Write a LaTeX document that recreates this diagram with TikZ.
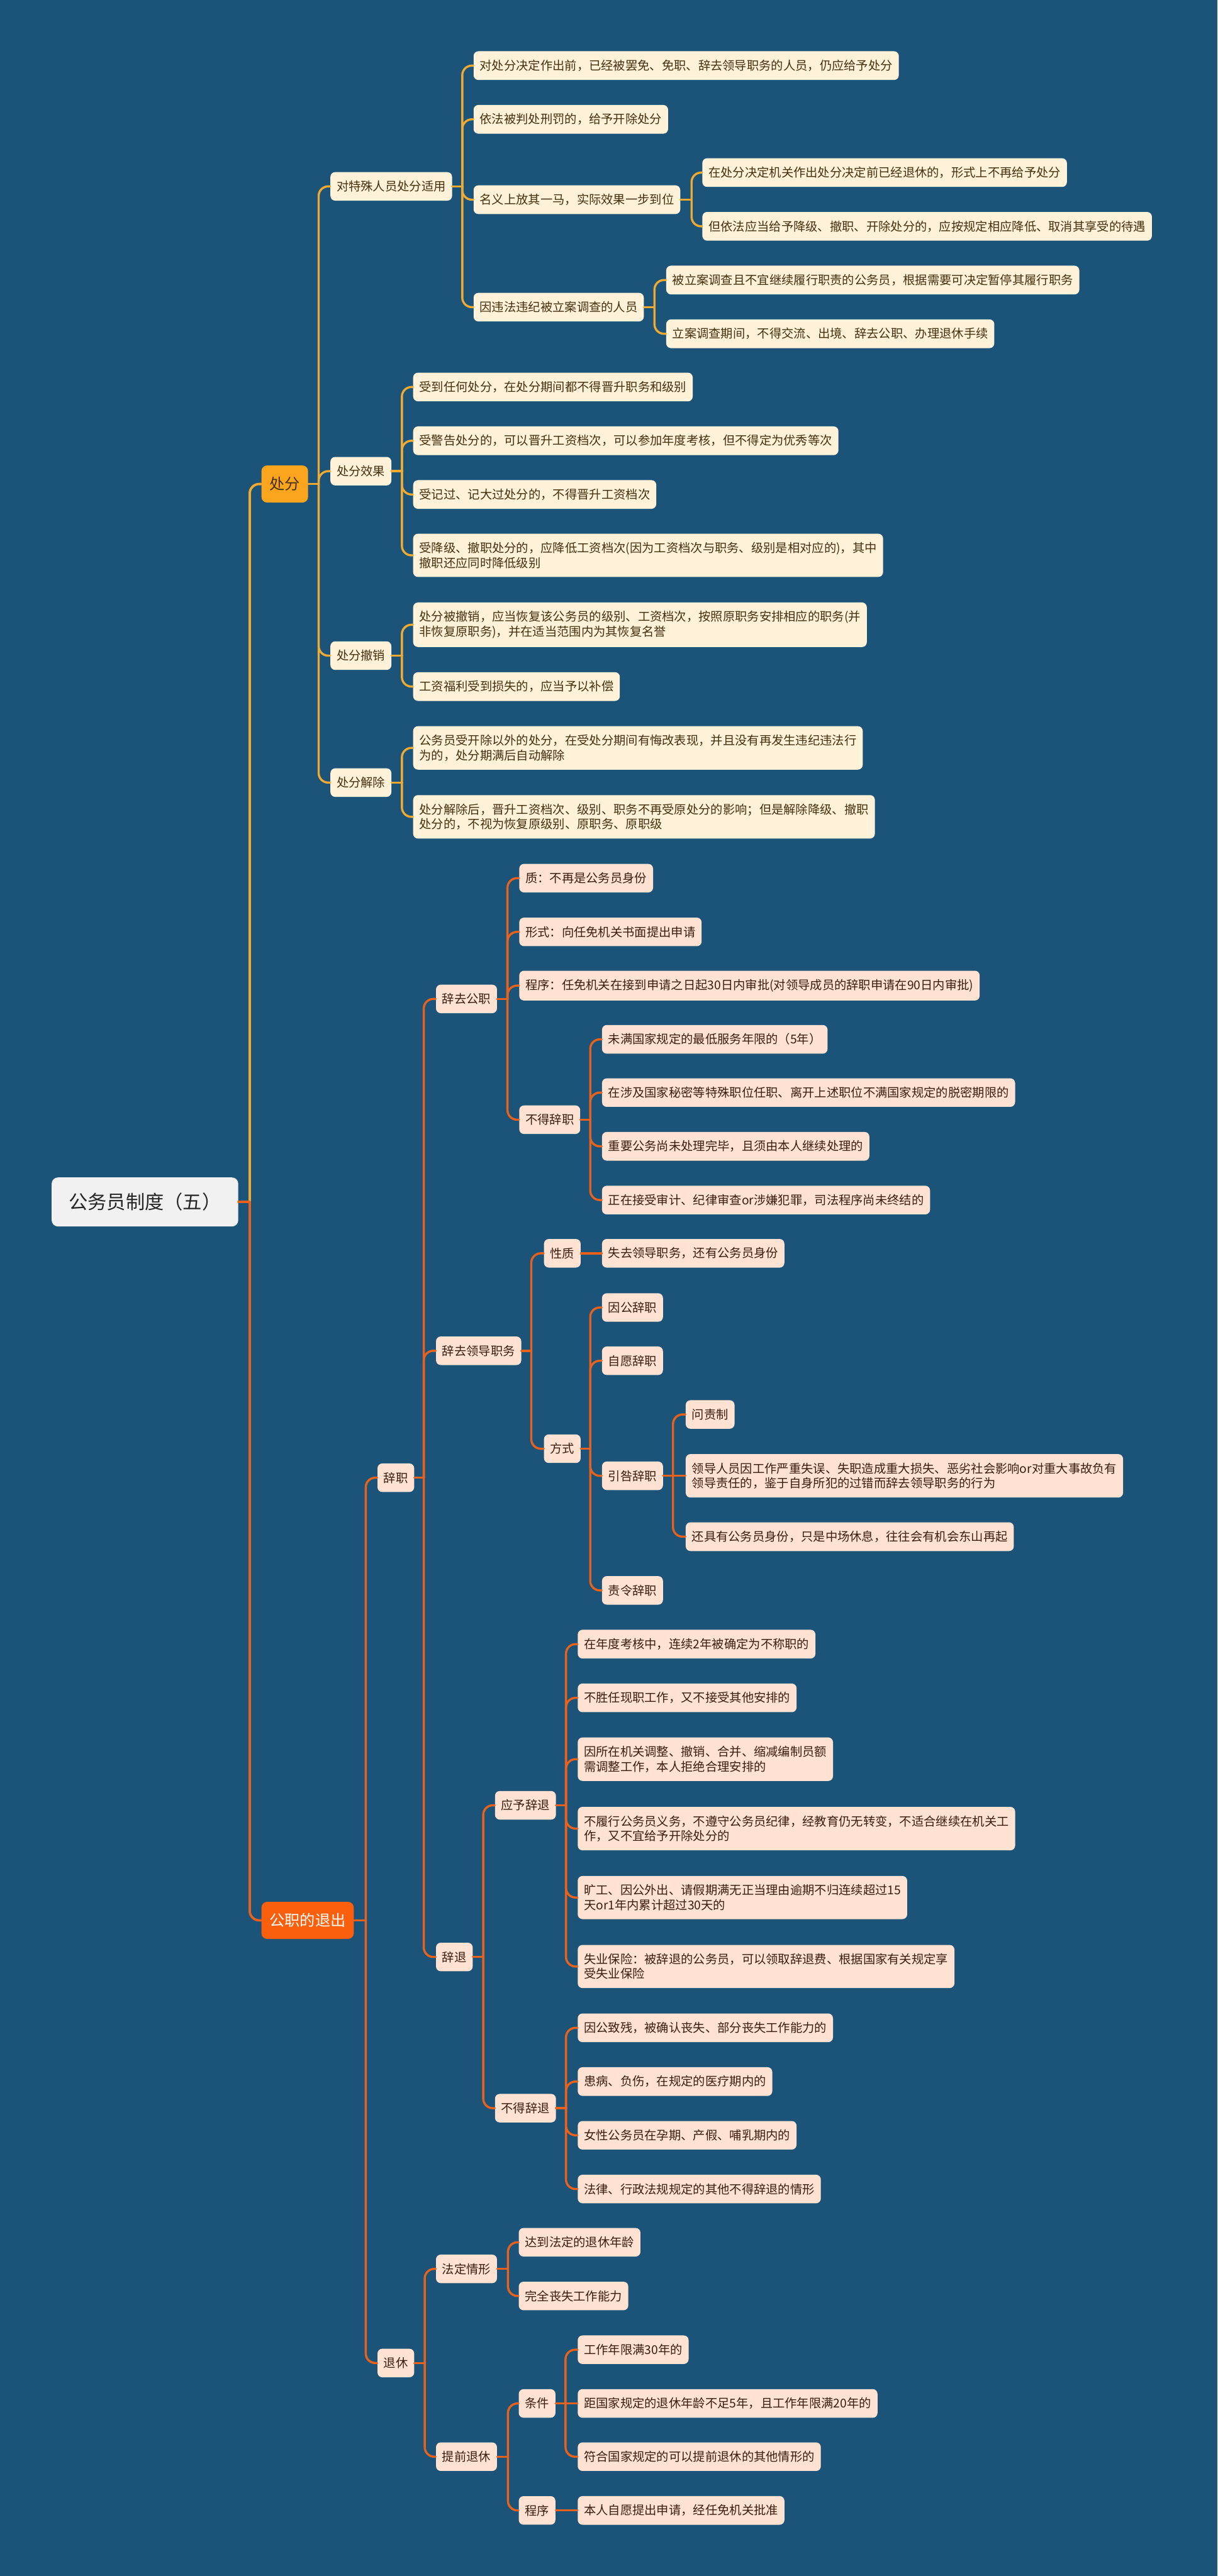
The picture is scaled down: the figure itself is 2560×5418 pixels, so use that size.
\documentclass[tikz,border=0pt]{standalone}
\usepackage{fontspec}
\newfontfamily\cjk{Noto Sans CJK SC}
\definecolor{bgc}{HTML}{1B5478}
\definecolor{goldl}{HTML}{F0AA32}
\definecolor{orl}{HTML}{E8621E}
\definecolor{creamc}{HTML}{FFF2D8}
\definecolor{creamt}{HTML}{45300F}
\definecolor{peachc}{HTML}{FFE2D2}
\definecolor{peacht}{HTML}{3B1E10}
\definecolor{cffill}{HTML}{FBA51E}
\definecolor{tcfill}{HTML}{F95F0C}
\definecolor{rootfill}{HTML}{F1F1F1}
\tikzset{
  base/.style={anchor=west, font=\cjk\fontsize{7.26}{8.82}\selectfont, rounded corners=0.1cm,
    inner xsep=0.13cm, inner ysep=0.18cm, minimum height=0.6cm, align=left},
  cream/.style={base, fill=creamc, text=creamt},
  peach/.style={base, fill=peachc, text=peacht},
  rootbox/.style={anchor=west, font=\cjk\fontsize{11.38}{13}\selectfont, fill=rootfill, text=black!85,
    rounded corners=0.13cm, inner xsep=0.36cm, minimum height=1.03cm},
  lonebox/.style={anchor=west, font=\cjk\fontsize{9.1}{11}\selectfont, rounded corners=0.12cm,
    inner xsep=0.17cm, minimum height=0.78cm},
  lna/.style={draw=goldl, line width=0.045cm, line cap=round},
  lnb/.style={draw=orl, line width=0.045cm, line cap=round},
  lnat/.style={draw=goldl, line width=0.05cm, line cap=round},
  lnbt/.style={draw=orl, line width=0.05cm, line cap=round},
}
\newcommand\myconn[4]{%
  \draw[#1] (#2.east) -- (#2.east -| #3);
  \draw[#1, rounded corners=0.2cm] (#2.east -| #3) |- (#4.west);}
\begin{document}
\begin{tikzpicture}[x=0.01cm, y=-0.01cm]
\fill[bgc] (0,0) rectangle (2560,5418);
\useasboundingbox (0,0) rectangle (2560,5418);

% root and level 1
\node[rootbox] (root) at (108,2528) {公务员制度（五）};
\node[lonebox, fill=cffill, text=creamt] (cf) at (549,1018) {处分};
\node[lonebox, fill=tcfill, text=white] (tc) at (549,4039) {公职的退出};

% ---- 处分 branch
\node[cream] (ts) at (694,392) {对特殊人员处分适用};
\node[cream] (xg) at (694,991) {处分效果};
\node[cream] (cx) at (694,1379) {处分撤销};
\node[cream] (jc) at (694,1646) {处分解除};

\node[cream] (ts1) at (995,138) {对处分决定作出前，已经被罢免、免职、辞去领导职务的人员，仍应给予处分};
\node[cream] (ts2) at (995,251) {依法被判处刑罚的，给予开除处分};
\node[cream] (ts3) at (995,420) {名义上放其一马，实际效果一步到位};
\node[cream] (ts4) at (995,646) {因违法违纪被立案调查的人员};
\node[cream] (ts31) at (1476,363) {在处分决定机关作出处分决定前已经退休的，形式上不再给予处分};
\node[cream] (ts32) at (1476,476) {但依法应当给予降级、撤职、开除处分的，应按规定相应降低、取消其享受的待遇};
\node[cream] (ts41) at (1400,589) {被立案调查且不宜继续履行职责的公务员，根据需要可决定暂停其履行职务};
\node[cream] (ts42) at (1400,702) {立案调查期间，不得交流、出境、辞去公职、办理退休手续};

\node[cream] (xg1) at (868,814) {受到任何处分，在处分期间都不得晋升职务和级别};
\node[cream] (xg2) at (868,927) {受警告处分的，可以晋升工资档次，可以参加年度考核，但不得定为优秀等次};
\node[cream] (xg3) at (868,1040) {受记过、记大过处分的，不得晋升工资档次};
\node[cream] (xg4) at (868,1168) {受降级、撤职处分的，应降低工资档次(因为工资档次与职务、级别是相对应的)，其中\\撤职还应同时降低级别};
\node[cream] (cx1) at (868,1314) {处分被撤销，应当恢复该公务员的级别、工资档次，按照原职务安排相应的职务(并\\非恢复原职务)，并在适当范围内为其恢复名誉};
\node[cream] (cx2) at (868,1444) {工资福利受到损失的，应当予以补偿};
\node[cream] (jc1) at (868,1573) {公务员受开除以外的处分，在受处分期间有悔改表现，并且没有再发生违纪违法行\\为的，处分期满后自动解除};
\node[cream] (jc2) at (868,1718) {处分解除后，晋升工资档次、级别、职务不再受原处分的影响；但是解除降级、撤职\\处分的，不视为恢复原级别、原职务、原职级};

% ---- 公职的退出 branch
\node[peach] (cz) at (793,3108) {辞职};
\node[peach] (tx) at (793,4970) {退休};
\node[peach] (cg) at (916,2101) {辞去公职};
\node[peach] (cl) at (916,2841) {辞去领导职务};
\node[peach] (ct) at (916,4116) {辞退};

\node[peach] (cg1) at (1091,1847) {质：不再是公务员身份};
\node[peach] (cg2) at (1091,1960) {形式：向任免机关书面提出申请};
\node[peach] (cg3) at (1091,2073) {程序：任免机关在接到申请之日起30日内审批(对领导成员的辞职申请在90日内审批)};
\node[peach] (cg4) at (1091,2355) {不得辞职};
\node[peach] (cg41) at (1265,2186) {未满国家规定的最低服务年限的（5年）};
\node[peach] (cg42) at (1265,2298) {在涉及国家秘密等特殊职位任职、离开上述职位不满国家规定的脱密期限的};
\node[peach] (cg43) at (1265,2411) {重要公务尚未处理完毕，且须由本人继续处理的};
\node[peach] (cg44) at (1265,2524) {正在接受审计、纪律审查or涉嫌犯罪，司法程序尚未终结的};

\node[peach] (cl1) at (1143,2636) {性质};
\node[peach] (cl2) at (1143,3047) {方式};
\node[peach] (cl11) at (1265,2636) {失去领导职务，还有公务员身份};
\node[peach] (cl21) at (1265,2750) {因公辞职};
\node[peach] (cl22) at (1265,2862) {自愿辞职};
\node[peach] (cl23) at (1265,3104) {引咎辞职};
\node[peach] (cl24) at (1265,3345) {责令辞职};
\node[peach] (cl231) at (1441,2975) {问责制};
\node[peach] (cl232) at (1441,3104) {领导人员因工作严重失误、失职造成重大损失、恶劣社会影响or对重大事故负有\\领导责任的，鉴于自身所犯的过错而辞去领导职务的行为};
\node[peach] (cl233) at (1441,3232) {还具有公务员身份，只是中场休息，往往会有机会东山再起};

\node[peach] (ct1) at (1040,3797) {应予辞退};
\node[peach] (ct2) at (1040,4434) {不得辞退};
\node[peach] (ct11) at (1214,3458) {在年度考核中，连续2年被确定为不称职的};
\node[peach] (ct12) at (1214,3571) {不胜任现职工作，又不接受其他安排的};
\node[peach] (ct13) at (1214,3700) {因所在机关调整、撤销、合并、缩减编制员额\\需调整工作，本人拒绝合理安排的};
\node[peach] (ct14) at (1214,3846) {不履行公务员义务，不遵守公务员纪律，经教育仍无转变，不适合继续在机关工\\作，又不宜给予开除处分的};
\node[peach] (ct15) at (1214,3991) {旷工、因公外出、请假期满无正当理由逾期不归连续超过15\\天or1年内累计超过30天的};
\node[peach] (ct16) at (1214,4136) {失业保险：被辞退的公务员，可以领取辞退费、根据国家有关规定享\\受失业保险};
\node[peach] (ct21) at (1214,4265) {因公致残，被确认丧失、部分丧失工作能力的};
\node[peach] (ct22) at (1214,4378) {患病、负伤，在规定的医疗期内的};
\node[peach] (ct23) at (1214,4491) {女性公务员在孕期、产假、哺乳期内的};
\node[peach] (ct24) at (1214,4604) {法律、行政法规规定的其他不得辞退的情形};

\node[peach] (tx1) at (916,4772) {法定情形};
\node[peach] (tx2) at (916,5167) {提前退休};
\node[peach] (tx11) at (1090,4716) {达到法定的退休年龄};
\node[peach] (tx12) at (1090,4829) {完全丧失工作能力};
\node[peach] (tx21) at (1090,5055) {条件};
\node[peach] (tx22) at (1090,5280) {程序};
\node[peach] (tx211) at (1214,4942) {工作年限满30年的};
\node[peach] (tx212) at (1214,5055) {距国家规定的退休年龄不足5年，且工作年限满20年的};
\node[peach] (tx213) at (1214,5167) {符合国家规定的可以提前退休的其他情形的};
\node[peach] (tx221) at (1214,5280) {本人自愿提出申请，经任免机关批准};

% bus coordinates
\coordinate (broot) at (525,0);
\coordinate (bcf) at (670,0);
\coordinate (bts) at (972,0);
\coordinate (bts3) at (1454,0);
\coordinate (bts4) at (1376,0);
\coordinate (bsub) at (845,0);
\coordinate (btc) at (769,0);
\coordinate (bcz) at (891,0);
\coordinate (bcg) at (1067,0);
\coordinate (bcg4) at (1241,0);
\coordinate (bcl) at (1117,0);
\coordinate (bcl2) at (1241,0);
\coordinate (bcl23) at (1415,0);
\coordinate (bct) at (1016,0);
\coordinate (bct1) at (1190,0);
\coordinate (btx) at (893,0);
\coordinate (btx1) at (1068,0);
\coordinate (btx21) at (1189,0);

% connectors
\myconn{lnat}{root}{broot}{cf}
\myconn{lnbt}{root}{broot}{tc}

\foreach \c in {ts,xg,cx,jc} {\myconn{lna}{cf}{bcf}{\c}}
\foreach \c in {ts1,ts2,ts3,ts4} {\myconn{lna}{ts}{bts}{\c}}
\foreach \c in {ts31,ts32} {\myconn{lna}{ts3}{bts3}{\c}}
\foreach \c in {ts41,ts42} {\myconn{lna}{ts4}{bts4}{\c}}
\foreach \c in {xg1,xg2,xg3,xg4} {\myconn{lna}{xg}{bsub}{\c}}
\foreach \c in {cx1,cx2} {\myconn{lna}{cx}{bsub}{\c}}
\foreach \c in {jc1,jc2} {\myconn{lna}{jc}{bsub}{\c}}

\foreach \c in {cz,tx} {\myconn{lnb}{tc}{btc}{\c}}
\foreach \c in {cg,cl,ct} {\myconn{lnb}{cz}{bcz}{\c}}
\foreach \c in {cg1,cg2,cg3,cg4} {\myconn{lnb}{cg}{bcg}{\c}}
\foreach \c in {cg41,cg42,cg43,cg44} {\myconn{lnb}{cg4}{bcg4}{\c}}
\foreach \c in {cl1,cl2} {\myconn{lnb}{cl}{bcl}{\c}}
\draw[lnb] (cl1.east) -- (cl11.west);
\foreach \c in {cl21,cl22,cl23,cl24} {\myconn{lnb}{cl2}{bcl2}{\c}}
\foreach \c in {cl231,cl233} {\myconn{lnb}{cl23}{bcl23}{\c}}
\draw[lnb] (cl23.east) -- (cl232.west);
\foreach \c in {ct1,ct2} {\myconn{lnb}{ct}{bct}{\c}}
\foreach \c in {ct11,ct12,ct13,ct14,ct15,ct16} {\myconn{lnb}{ct1}{bct1}{\c}}
\foreach \c in {ct21,ct22,ct23,ct24} {\myconn{lnb}{ct2}{bct1}{\c}}
\foreach \c in {tx1,tx2} {\myconn{lnb}{tx}{btx}{\c}}
\foreach \c in {tx11,tx12} {\myconn{lnb}{tx1}{btx1}{\c}}
\foreach \c in {tx21,tx22} {\myconn{lnb}{tx2}{btx1}{\c}}
\foreach \c in {tx211,tx213} {\myconn{lnb}{tx21}{btx21}{\c}}
\draw[lnb] (tx21.east) -- (tx212.west);
\draw[lnb] (tx22.east) -- (tx221.west);
\end{tikzpicture}
\end{document}
